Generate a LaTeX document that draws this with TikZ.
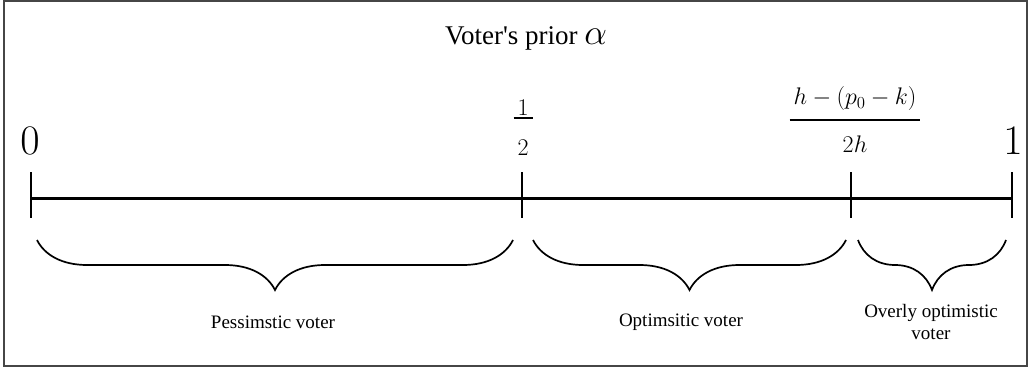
\RequirePackage{fix-cm}
\documentclass[tikz,border=0pt]{standalone}
\usepackage{fontspec}
\setmainfont{Liberation Serif}[Ligatures=TeXOff]
\usepackage{tikz}
\usetikzlibrary{decorations.pathreplacing,positioning}

\tikzset{
  framebox/.style={draw=gray!55!black,line width=1.2pt},
  axisline/.style={line width=3pt},
  tickmark/.style={line width=2.4pt},
  votebrace/.style={decorate,decoration={brace,mirror,amplitude=50pt},line width=1.7pt},
  grouplabel/.style={font=\fontsize{19}{22}\selectfont,align=center},
  endlabel/.style={font=\fontsize{42}{48}\selectfont,anchor=base},
  fraclabel/.style={font=\fontsize{24}{28}\selectfont,anchor=base},
  titlelabel/.style={font=\fontsize{27}{32}\selectfont,anchor=base}
}

\begin{document}
\begin{tikzpicture}[x=1pt,y=1pt]
\useasboundingbox (0,0) rectangle (1030,370);
\draw[framebox] (4,4) rectangle (1027,369);
\coordinate (t0) at (31,172);
\coordinate (thalf) at (522,172);
\coordinate (th) at (851,172);
\coordinate (t1) at (1012,172);
\draw[axisline] (t0) -- (t1);
\foreach \t in {t0,thalf,th,t1}
  {\draw[tickmark] (\t) ++(0,26) -- ++(0,-46);}
\node[titlelabel] (prior) at (526,325) {Voter's prior {\fontsize{36}{40}\selectfont$\alpha$}};
\node[endlabel] (zero) at (30,215) {$0$};
\node[endlabel] (one) at (1013,215) {$1$};
\node[fraclabel] (half) at (523,246) {$\displaystyle{\,\smash{\raisebox{-7.25pt}{$1$}}\,\above 2.6pt\rule{0pt}{28.25pt}2}$};
\node[fraclabel] (cut) at (855,244) {$\displaystyle{\,h-(p_0-k)\,\above 2.6pt\rule{0pt}{23.25pt}2h}$};
\coordinate (b1s) at (37,130);
\coordinate (b1e) at (513,130);
\coordinate (b2s) at (533,130);
\coordinate (b2e) at (846,130);
\coordinate (b3s) at (858,130);
\coordinate (b3e) at (1006,130);
\draw[votebrace] (b1s) -- (b1e);
\draw[votebrace] (b2s) -- (b2e);
\draw[votebrace] (b3s) -- (b3e);
\node[grouplabel] (pess) at (273,48) {Pessimstic voter};
\node[grouplabel] (opt) at (681,48) {Optimsitic voter};
\node[grouplabel] (over) at (931,48) {Overly optimistic\\voter};
\end{tikzpicture}
\end{document}
